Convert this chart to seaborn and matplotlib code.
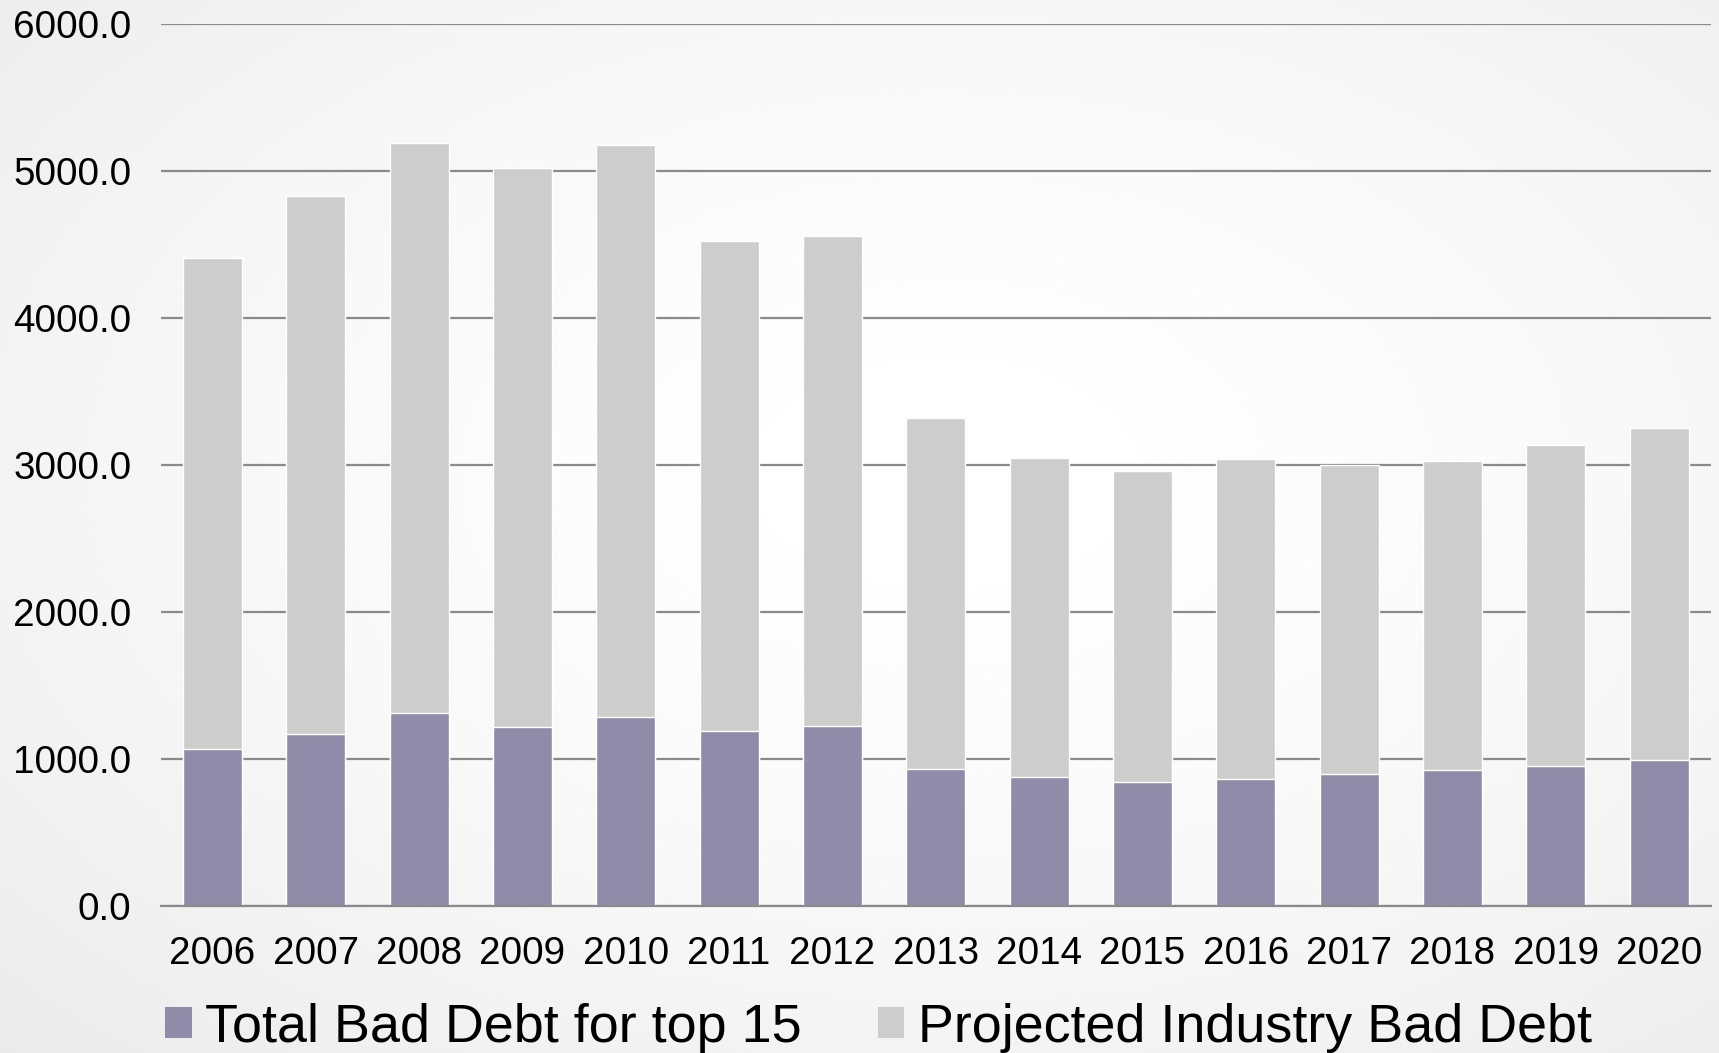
import numpy as np
import pandas as pd
import matplotlib
matplotlib.use("Agg")
import matplotlib.pyplot as plt
from matplotlib.patches import Patch
import seaborn as sns

years = ["2006", "2007", "2008", "2009", "2010", "2011", "2012", "2013",
         "2014", "2015", "2016", "2017", "2018", "2019", "2020"]
top15_bad_debt = [1066, 1170, 1309, 1216, 1284, 1186, 1225, 928,
                  875, 844, 862, 896, 923, 950, 991]
industry_bad_debt = [4409, 4827, 5190, 5022, 5179, 4522, 4559, 3321,
                     3044, 2960, 3040, 2999, 3028, 3135, 3253]

PURPLE = "#8F8CA9"
GREY = "#CDCDCB"
GRID = "#8A8A8A"

sns.set_theme(style="white")
plt.rcParams["font.family"] = ["Liberation Sans", "DejaVu Sans"]
plt.rcParams["text.color"] = "black"
plt.rcParams["xtick.color"] = "black"
plt.rcParams["ytick.color"] = "black"

df = pd.DataFrame({"year": years,
                   "top15": top15_bad_debt,
                   "industry": industry_bad_debt})

fig = plt.figure(figsize=(17.19, 10.53), dpi=100)

# soft radial backdrop behind the chart
bg = fig.add_axes([0, 0, 1, 1], zorder=-10)
yy, xx = np.mgrid[0:1:400j, 0:1:650j]
r = np.sqrt(((xx - 0.55) / 0.75) ** 2 + ((yy - 0.55) / 0.75) ** 2)
shade = 1.0 - 0.075 * np.clip(r, 0, 1.2) ** 1.6
bg.imshow(shade, cmap="gray", vmin=0, vmax=1, aspect="auto",
          extent=[0, 1, 0, 1], origin="lower", interpolation="bicubic")
bg.set_axis_off()

ax = fig.add_axes([0.0935, 0.14, 0.9017, 0.8372])
ax.patch.set_alpha(0)

sns.barplot(data=df, x="year", y="industry", color=GREY, width=0.57,
            saturation=1, ax=ax, zorder=3)
sns.barplot(data=df, x="year", y="top15", color=PURPLE, width=0.57,
            saturation=1, ax=ax, zorder=4)

ax.set_ylim(0, 6000)
ax.set_xlim(-0.5, len(years) - 0.5)
ax.set_yticks(np.arange(0, 6001, 1000))
ax.set_yticklabels([f"{v:.1f}" for v in np.arange(0, 6001, 1000)])
ax.set_xlabel("")
ax.set_ylabel("")

ax.yaxis.grid(True, color=GRID, linewidth=1.6, zorder=1)
ax.set_axisbelow(True)
for side in ["top", "right", "left"]:
    ax.spines[side].set_visible(False)
ax.spines["bottom"].set_color(GRID)
ax.spines["bottom"].set_linewidth(1.6)
ax.spines["bottom"].set_zorder(5)

ax.tick_params(axis="y", length=0, pad=21, labelsize=27.8, labelcolor="black")
ax.tick_params(axis="x", length=0, pad=22, labelsize=27.8, labelcolor="black")

handles = [Patch(facecolor=PURPLE, edgecolor="none"),
           Patch(facecolor=GREY, edgecolor="none")]
fig.legend(handles, ["Total Bad Debt for top 15", "Projected Industry Bad Debt"],
           loc="center left", bbox_to_anchor=(0.096, 0.024), ncol=2,
           frameon=False, fontsize=38.8, handlelength=0.5, handleheight=0.5,
           handletextpad=0.25, columnspacing=1.4, borderaxespad=0, borderpad=0,
           labelcolor="black")

fig.savefig("out.png", dpi=100)
